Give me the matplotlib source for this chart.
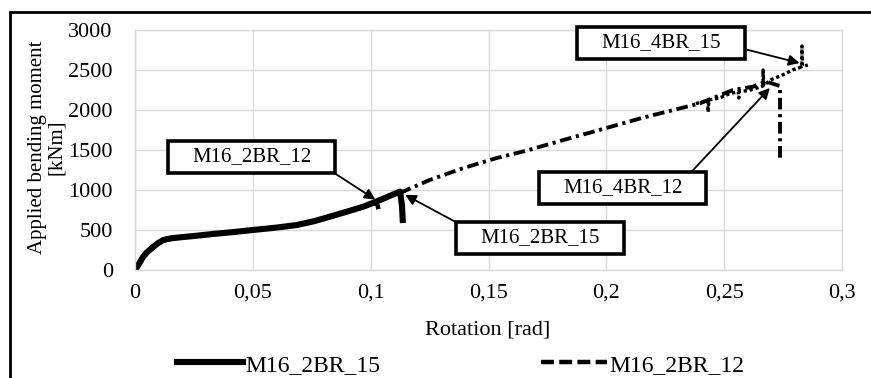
import matplotlib
matplotlib.use('Agg')
import matplotlib.pyplot as plt
from matplotlib.path import Path
from matplotlib.patches import Rectangle

# rotation [rad] / moment [kNm]
rot_2br15 = [0, 0.0007, 0.0015, 0.0025, 0.0035, 0.005, 0.0078, 0.010, 0.012,
             0.015, 0.019, 0.025, 0.033, 0.042, 0.050, 0.060, 0.0686, 0.076,
             0.0827, 0.090, 0.0969, 0.102, 0.106, 0.110, 0.1125, 0.1133, 0.1136]
mom_2br15 = [0, 30, 70, 120, 166, 220, 292, 340, 375,
             395, 408, 425, 450, 475, 500, 530, 562, 610,
             667, 730, 792, 850, 900, 950, 980, 800, 625]

rot_2br12 = [0, 0.002, 0.005, 0.008, 0.012, 0.019, 0.033, 0.050, 0.0686,
             0.0827, 0.0969, 0.1025, 0.103, 0.1033]
mom_2br12 = [0, 80, 210, 290, 370, 405, 448, 498, 560,
             665, 790, 840, 800, 760]

rot_4br12 = [0.1124, 0.125, 0.139, 0.1535, 0.166, 0.180, 0.197, 0.215, 0.2397,
             0.2537, 0.262, 0.268, 0.2705, 0.2737, 0.2737]
mom_4br12 = [962, 1125, 1271, 1400, 1491, 1610, 1750, 1900, 2083,
             2250, 2290, 2354, 2330, 2300, 1400]

rot_4br15 = [0.238, 0.243, 0.2432, 0.2435, 0.248, 0.252, 0.256, 0.2562, 0.2565,
             0.260, 0.2645, 0.2665, 0.2665, 0.2668, 0.270, 0.275, 0.279, 0.283,
             0.283, 0.2832, 0.2855]
mom_4br15 = [2080, 2120, 1975, 2125, 2150, 2200, 2230, 2150, 2235,
             2240, 2280, 2300, 2500, 2310, 2380, 2440, 2500, 2540,
             2800, 2545, 2562]

xticks = [0, 0.05, 0.1, 0.15, 0.2, 0.25, 0.3]
xtick_labels = ['0', '0,05', '0,1', '0,15', '0,2', '0,25', '0,3']
yticks = [0, 500, 1000, 1500, 2000, 2500, 3000]

plt.rcParams['font.family'] = ['Liberation Serif', 'DejaVu Serif']
fs = 15


def wide_box(x0, y0, width, height, mutation_size):
    # rectangular box, wider padding left/right than top/bottom
    px = mutation_size * 1.15
    py = mutation_size * 0.3
    a, b = x0 - px, y0 - py
    c, d = x0 + width + px, y0 + height + py
    return Path([(a, b), (c, b), (c, d), (a, d), (a, b)], closed=True)


fig = plt.figure(figsize=(8.71, 3.78), dpi=100)
ax = fig.add_axes([135/871, 1-270/378, 707/871, 240/378])

ax.plot(rot_4br12, mom_4br12, color='black', lw=2.8, ls=(0, (3, 1.2, 0.8, 1.2)))
ax.plot(rot_4br15, mom_4br15, color='black', lw=2.4, ls=(0, (1, 0.8)))
ax.plot(rot_2br12, mom_2br12, color='black', lw=3.2, ls=(0, (2.9, 1.2)),
        label='M16_2BR_12')
ax.plot(rot_2br15, mom_2br15, color='black', lw=4.4, label='M16_2BR_15')

ax.set_xlim(0, 0.3)
ax.set_ylim(0, 3000)
ax.set_xticks(xticks)
ax.set_xticklabels(xtick_labels)
ax.set_yticks(yticks)
ax.tick_params(length=0, labelsize=16)
ax.tick_params(axis='x', pad=10)
ax.tick_params(axis='y', pad=16)
ax.grid(True, color='#d9d9d9', lw=1)
ax.set_axisbelow(True)
for s in ax.spines.values():
    s.set_color('#d9d9d9')
    s.set_linewidth(1)

# call-outs
notes = [
    ('M16_2BR_12', (0.102, 880), (0.0496, 1412), (1, 0.43)),
    ('M16_2BR_15', (0.1146, 940), (0.1718, 400), (0, 0.65)),
    ('M16_4BR_12', (0.2694, 2275), (0.207, 1025), (1, 0.85)),
    ('M16_4BR_15', (0.282, 2587), (0.2232, 2837), (1, 0.5)),
]
for txt, tip, pos, rel in notes:
    ax.annotate(txt, xy=tip, xytext=pos, ha='center', va='center', fontsize=fs,
                annotation_clip=False,
                bbox=dict(boxstyle=wide_box, fc='white', ec='black', lw=2.6),
                arrowprops=dict(arrowstyle='-|>', color='black', lw=1.3,
                                mutation_scale=16, relpos=rel,
                                shrinkA=0, shrinkB=0))

fig.text(488/871, 1-330/378, 'Rotation [rad]', ha='center', va='center',
         fontsize=16)
fig.text(47/871, 1-147/378, 'Applied bending moment\n[kNm]', rotation=90,
         ha='center', va='center', fontsize=fs, linespacing=1.0,
         multialignment='center')

h, l = ax.get_legend_handles_labels()
fig.legend(h[::-1], l[::-1], loc='center', bbox_to_anchor=(461/871, 1-365/378),
           ncol=2, frameon=False, fontsize=17, handlelength=2.8,
           handletextpad=0.1, columnspacing=6.8, borderaxespad=0)

# outer frame of the figure
fig.patches.append(Rectangle((10/871, -0.2), 1.2, 1.2 - 12/378, lw=2,
                             ec='black', fc='none', transform=fig.transFigure,
                             figure=fig))

fig.savefig('out.png', dpi=100)
